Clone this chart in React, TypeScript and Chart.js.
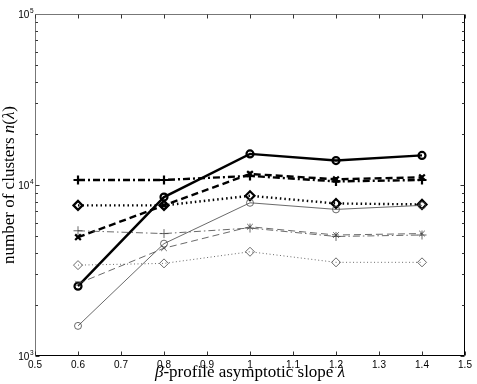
import React, { useEffect, useRef } from "react";
import { Chart, registerables } from "chart.js";

Chart.register(...registerables);

const lambdaValues = [0.6, 0.8, 1.0, 1.2, 1.4];

const thickSolidCircle = [2560, 8500, 15200, 13900, 14900];
const thickDashedX = [4950, 7600, 11600, 10800, 11100];
const thickDashDotPlus = [10700, 10700, 11300, 10500, 10700];
const thickDottedDiamond = [7600, 7600, 8650, 7800, 7700];
const thinSolidCircle = [1500, 4540, 7870, 7200, 7600];
const thinDashedX = [2650, 4270, 5700, 5100, 5200];
const thinDashDotPlus = [5400, 5200, 5600, 5000, 5100];
const thinDottedDiamond = [3400, 3480, 4070, 3530, 3530];

const xTicks = [0.5, 0.6, 0.7, 0.8, 0.9, 1.0, 1.1, 1.2, 1.3, 1.4, 1.5];
const yTicks = [1000, 10000, 100000];
const yTickBase = "10";
const yTickExponents = ["3", "4", "5"];

const xTitleParts = [
  { text: "\u03B2", italic: true },
  { text: "-profile asymptotic slope ", italic: false },
  { text: "\u03BB", italic: true },
];
const yTitleParts = [
  { text: "number of clusters ", italic: false },
  { text: "n", italic: true },
  { text: "(", italic: false },
  { text: "\u03BB", italic: true },
  { text: ")", italic: false },
];

const SERIF = "'Liberation Serif', 'DejaVu Serif', serif";
const SANS = "'Liberation Sans', Arial, sans-serif";

function drawParts(ctx: CanvasRenderingContext2D, parts: { text: string; italic: boolean }[], size: number) {
  const fonts = parts.map((p) => `${p.italic ? "italic " : ""}${size}px ${SERIF}`);
  let total = 0;
  const widths = parts.map((p, i) => {
    ctx.font = fonts[i];
    const w = ctx.measureText(p.text).width;
    total += w;
    return w;
  });
  let x = -total / 2;
  parts.forEach((p, i) => {
    ctx.font = fonts[i];
    ctx.fillText(p.text, x, 0);
    x += widths[i];
  });
}

const framePlugin = {
  id: "frameTicks",
  afterDraw(chart: any) {
    const { ctx, chartArea } = chart;
    const { left, right, top, bottom } = chartArea;
    const xs = chart.scales.x;
    const ys = chart.scales.y;
    ctx.save();
    ctx.lineWidth = 1;
    const L = Math.round(left) + 0.5;
    const R = Math.round(right) - 0.5;
    const T = Math.round(top) + 0.5;
    const B = Math.round(bottom) - 0.5;
    ctx.strokeStyle = "#777";
    ctx.beginPath();
    ctx.moveTo(L, B);
    ctx.lineTo(L, T);
    ctx.lineTo(R, T);
    ctx.stroke();
    ctx.strokeStyle = "#000";
    ctx.beginPath();
    ctx.moveTo(R, T);
    ctx.lineTo(R, B);
    ctx.lineTo(L, B);
    ctx.stroke();

    ctx.strokeStyle = "#333";
    ctx.beginPath();
    for (const v of xTicks) {
      const px = Math.round(xs.getPixelForValue(v)) + 0.5;
      ctx.moveTo(px, B);
      ctx.lineTo(px, B - 4);
      ctx.moveTo(px, T);
      ctx.lineTo(px, T + 4);
    }
    for (let e = 3; e < 5; e++) {
      for (let m = 1; m <= 9; m++) {
        const v = m * Math.pow(10, e);
        const py = Math.round(ys.getPixelForValue(v)) + 0.5;
        const len = m === 1 ? 4 : 2.5;
        ctx.moveTo(L, py);
        ctx.lineTo(L + len, py);
        ctx.moveTo(R, py);
        ctx.lineTo(R - len, py);
      }
    }
    ctx.stroke();

    // y tick labels: 10 with superscript exponent
    ctx.fillStyle = "#000";
    ctx.textBaseline = "alphabetic";
    ctx.textAlign = "left";
    yTicks.forEach((v, i) => {
      const py = ys.getPixelForValue(v);
      ctx.font = `6.5px ${SANS}`;
      const ew = ctx.measureText(yTickExponents[i]).width;
      ctx.font = `10px ${SANS}`;
      const bw = ctx.measureText(yTickBase).width;
      const xEnd = left - 2;
      const xb = xEnd - ew - bw;
      ctx.fillText(yTickBase, xb, py + 4);
      ctx.font = `6.5px ${SANS}`;
      ctx.fillText(yTickExponents[i], xb + bw + 0.5, py - 1.5);
    });

    ctx.save();
    ctx.translate((left + right) / 2, 377);
    drawParts(ctx, xTitleParts, 17);
    ctx.restore();

    ctx.save();
    ctx.translate(14, (top + bottom) / 2);
    ctx.rotate(-Math.PI / 2);
    drawParts(ctx, yTitleParts, 17);
    ctx.restore();
    ctx.restore();
  },
};

function pts(vals: number[]) {
  return lambdaValues.map((x, i) => ({ x, y: vals[i] }));
}

export default function App() {
  const ref = useRef<HTMLCanvasElement | null>(null);
  useEffect(() => {
    document.body.style.margin = "0";
    const canvas = ref.current;
    if (!canvas) return;
    const thick = 2.4;
    const thin = 0.8;
    const thinColor = "#444";
    const chart = new Chart(canvas, {
      type: "line",
      data: {
        datasets: [
          {
            data: pts(thinDottedDiamond),
            borderColor: thinColor,
            borderWidth: thin,
            borderDash: [1, 2.5],
            pointStyle: "rectRot",
            pointRadius: 4.5,
            pointBorderWidth: thin,
            pointBorderColor: thinColor,
            pointBackgroundColor: "transparent",
          },
          {
            data: pts(thinDashDotPlus),
            borderColor: thinColor,
            borderWidth: thin,
            borderDash: [7, 3, 1.5, 3],
            pointStyle: "cross",
            pointRadius: 4.5,
            pointBorderWidth: thin,
            pointBorderColor: thinColor,
            pointBackgroundColor: "transparent",
          },
          {
            data: pts(thinDashedX),
            borderColor: thinColor,
            borderWidth: thin,
            borderDash: [7, 4],
            pointStyle: "crossRot",
            pointRadius: 4,
            pointBorderWidth: thin,
            pointBorderColor: thinColor,
            pointBackgroundColor: "transparent",
          },
          {
            data: pts(thinSolidCircle),
            borderColor: thinColor,
            borderWidth: thin,
            pointStyle: "circle",
            pointRadius: 3.5,
            pointBorderWidth: thin,
            pointBorderColor: thinColor,
            pointBackgroundColor: "transparent",
          },
          {
            data: pts(thickDottedDiamond),
            borderColor: "#000",
            borderWidth: thick,
            borderDash: [1.5, 3],
            pointStyle: "rectRot",
            pointRadius: 4.5,
            pointBorderWidth: 2.2,
            pointBorderColor: "#000",
            pointBackgroundColor: "transparent",
          },
          {
            data: pts(thickDashDotPlus),
            borderColor: "#000",
            borderWidth: thick,
            borderDash: [7, 3, 2, 3],
            pointStyle: "cross",
            pointRadius: 4.5,
            pointBorderWidth: 2.2,
            pointBorderColor: "#000",
            pointBackgroundColor: "transparent",
          },
          {
            data: pts(thickDashedX),
            borderColor: "#000",
            borderWidth: thick,
            borderDash: [7, 4],
            pointStyle: "crossRot",
            pointRadius: 4,
            pointBorderWidth: 2.2,
            pointBorderColor: "#000",
            pointBackgroundColor: "transparent",
          },
          {
            data: pts(thickSolidCircle),
            borderColor: "#000",
            borderWidth: thick,
            pointStyle: "circle",
            pointRadius: 3.5,
            pointBorderWidth: 2.2,
            pointBorderColor: "#000",
            pointBackgroundColor: "transparent",
          },
        ],
      },
      options: {
        responsive: false,
        animation: false,
        events: [],
        layout: { padding: { left: 0, top: 14, right: 12, bottom: 0 } },
        plugins: { legend: { display: false }, tooltip: { enabled: false } },
        elements: { line: { tension: 0, fill: false } },
        scales: {
          x: {
            type: "linear",
            min: 0.5,
            max: 1.5,
            grid: { display: false, drawTicks: false, tickLength: 0 },
            border: { display: false },
            afterBuildTicks: (s: any) => {
              s.ticks = xTicks.map((v) => ({ value: v }));
            },
            afterFit: (s: any) => {
              s.height = 28;
            },
            ticks: {
              padding: 3,
              maxRotation: 0,
              autoSkip: false,
              color: "#000",
              font: { family: SANS, size: 10 },
              callback: (v: any) => String(Math.round(Number(v) * 10) / 10),
            },
          },
          y: {
            type: "logarithmic",
            min: 1000,
            max: 100000,
            grid: { display: false, drawTicks: false, tickLength: 0 },
            border: { display: false },
            afterBuildTicks: (s: any) => {
              s.ticks = yTicks.map((v) => ({ value: v }));
            },
            afterFit: (s: any) => {
              s.width = 35;
            },
            ticks: { display: false },
          },
        },
      },
      plugins: [framePlugin],
    } as any);
    return () => chart.destroy();
  }, []);
  return <canvas ref={ref} width={477} height={384} style={{ display: "block" }} />;
}
